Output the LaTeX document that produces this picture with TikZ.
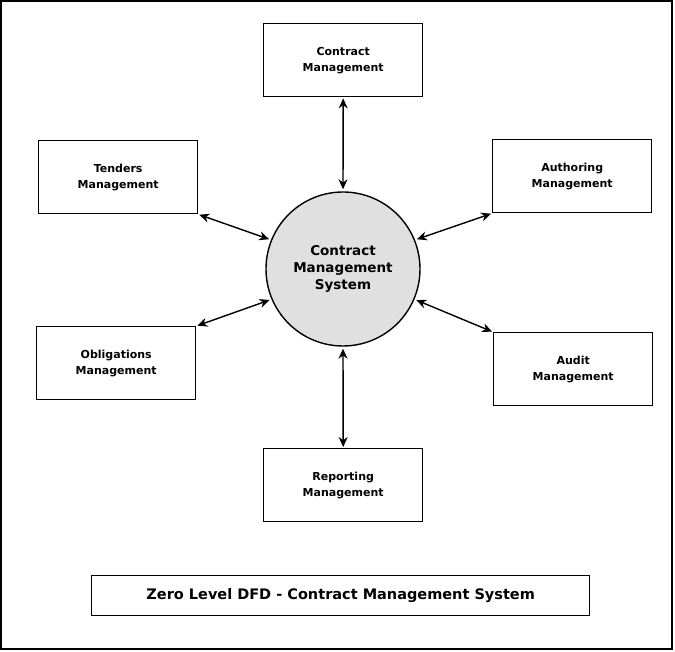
\documentclass[tikz,border=0pt]{standalone}
\usepackage{fontspec}
\setmainfont{DejaVu Sans}
\usetikzlibrary{arrows.meta}
\begin{document}
\begin{tikzpicture}[x=1pt,y=-1pt,
  ent/.style={draw,line width=1.4pt,minimum width=159pt,minimum height=73pt,align=center,font=\bfseries\fontsize{11}{16}\selectfont,anchor=north west,inner sep=0pt},
  flow/.style={line width=1.4pt,shorten <=2pt,shorten >=1pt,{Stealth[length=10pt,width=9pt]}-{Stealth[length=10pt,width=9pt]}}]
\useasboundingbox (0,0) rectangle (675,652);
\draw[line width=1.4pt] (1,1) rectangle (672,649);
\node[ent] (cm) at (263,23) {Contract\\Management};
\node[ent] (tm) at (38,140) {Tenders\\Management};
\node[ent] (am) at (492,139) {Authoring\\Management};
\node[ent] (om) at (36,326) {Obligations\\Management};
\node[ent] (au) at (493,332) {Audit\\Management};
\node[ent] (rm) at (263,448) {Reporting\\Management};
\node[draw,line width=1.4pt,circle,fill=black!12,minimum size=154pt,align=center,font=\bfseries\fontsize{13.5}{17}\selectfont,inner sep=0pt] (sys) at (343,269) {Contract\\Management\\System};
\node[draw,line width=1.4pt,minimum width=498pt,minimum height=40pt,anchor=north west,font=\bfseries\fontsize{14.5}{17}\selectfont,inner sep=0pt] (title) at (91,575) {Zero Level DFD - Contract Management System};
\draw[flow] (sys.north) -- (cm.south);
\draw[flow] (sys.south) -- (rm.north);
\draw[flow] (sys.158) -- (tm.south east);
\draw[flow] (sys.22) -- (am.south west);
\draw[flow] (sys.203) -- (om.north east);
\draw[flow] (sys.337) -- (au.north west);
\end{tikzpicture}
\end{document}
